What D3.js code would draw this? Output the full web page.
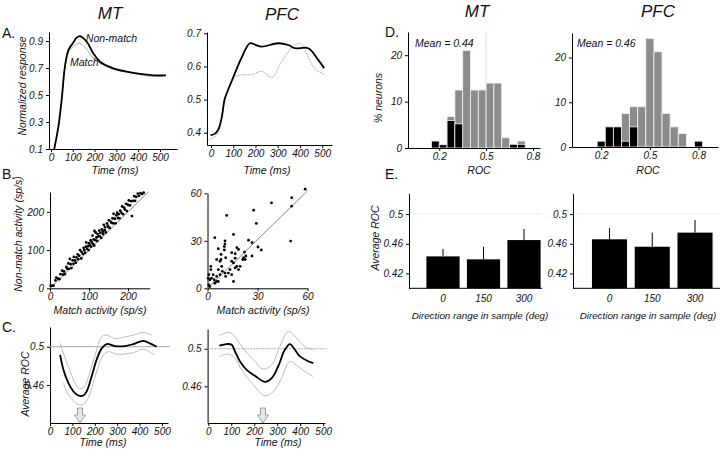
<!DOCTYPE html>
<html>
<head>
<meta charset="utf-8">
<script src="https://cdn.jsdelivr.net/npm/d3@7"></script>
<style>
body { margin: 0; background: #fff; }
svg { font-family: "Liberation Sans", Arial, sans-serif; }
</style>
</head>
<body>
<svg id="fig" width="720" height="451"></svg>
<script>
// ---- A: normalized response (time ms, value)
const mtNonMatch = [[15,0.1],[34,0.265],[49,0.463],[64,0.71],[80,0.833],[102,0.888],[118,0.925],[133,0.937],[164,0.895],[194,0.81],[225,0.747],[286,0.698],[348,0.673],[408,0.656],[469,0.646],[527,0.645]];
const mtMatch = [[15,0.1],[34,0.265],[49,0.463],[64,0.70],[80,0.815],[102,0.86],[118,0.877],[133,0.883],[164,0.839],[194,0.772],[225,0.735],[286,0.69],[348,0.668],[408,0.652],[440,0.64],[469,0.64],[527,0.645]];
const pfcNonMatch = [[-2,0.392],[20,0.398],[33,0.41],[48,0.445],[58,0.49],[63,0.505],[100,0.567],[138,0.627],[175,0.67],[200,0.665],[228,0.66],[302,0.67],[350,0.664],[377,0.655],[437,0.655],[482,0.62],[509,0.595]];
const pfcMatch = [[-9,0.38],[10,0.385],[33,0.40],[63,0.5],[100,0.567],[120,0.572],[138,0.575],[183,0.575],[228,0.585],[275,0.567],[317,0.615],[377,0.665],[407,0.667],[437,0.628],[467,0.593],[509,0.576]];

// ---- B: match vs non-match activity (sp/s)
const mtScatter = [[2,6],[6,7],[9,7],[14,21],[16,28],[21,25],[24,24],[27,37],[31,46],[33,36],[36,44],[38,37],[42,56],[44,51],[47,65],[49,51],[51,77],[53,63],[55,53],[58,73],[60,64],[61,82],[64,73],[66,67],[68,81],[71,89],[72,76],[75,85],[77,100],[80,78],[81,95],[84,90],[86,106],[88,100],[90,93],[92,109],[93,120],[95,103],[97,110],[99,100],[100,118],[102,112],[104,126],[105,109],[107,121],[109,138],[110,116],[112,128],[113,112],[114,150],[116,126],[117,146],[119,133],[121,124],[122,142],[124,136],[126,151],[128,136],[129,145],[131,132],[133,154],[135,148],[136,142],[138,166],[140,152],[141,160],[143,146],[146,170],[148,164],[150,160],[151,178],[153,158],[156,174],[158,171],[160,183],[162,170],[163,195],[166,182],[168,170],[170,191],[172,198],[174,184],[176,194],[178,183],[180,203],[183,198],[185,214],[187,194],[190,211],[192,206],[195,221],[197,202],[200,218],[202,230],[205,217],[208,228],[210,189],[213,229],[216,241],[218,229],[221,239],[225,248],[228,242],[232,249],[236,247],[240,250]];
const pfcScatter = [[58.6,62.6],[50.5,57.2],[38.4,54],[27.7,49.3],[11.5,46],[29.3,41],[50.5,51.9],[49.9,29.8],[4.4,32],[15.6,34],[24.6,30.4],[26.7,28.9],[30.3,26.1],[32.3,24.2],[17.6,25.7],[18.6,24.6],[22.2,22.9],[21.6,19.3],[21.2,18.2],[10.5,30],[10.5,28],[10.1,26.4],[10.1,24.2],[6.5,25],[8.1,21.4],[5.5,18.2],[7.5,17.1],[10.9,19.3],[14.5,17.1],[15.6,16],[16.6,19],[17.6,13.9],[16.6,12.9],[13.5,11.8],[12.5,9.6],[14.5,8.6],[8.5,13.9],[6.5,11.8],[8.9,10.7],[10.5,9.6],[10.9,7.5],[7.5,8.6],[5.5,7.5],[3.4,8.6],[2,11.8],[0.8,8.6],[0.4,6.4],[1.4,5.4],[2.4,6.4],[4,5.4],[5.5,4.3],[4.4,3.2],[6.5,4.3],[0.8,2.1],[1.4,1.1],[15.6,4.3],[18.6,11.8],[19.6,13.9],[22.6,18.2],[23,20.4],[26.7,20.4],[14.5,22.5],[16.6,21.9],[8.1,18.2],[2,13.9]];

// ---- C: average ROC over time (ms, ROC)
const mtRocMean = [[45,0.4914],[60,0.476],[82,0.4622],[104,0.4535],[126,0.449],[149,0.449],[164,0.4535],[186,0.469],[208,0.4862],[231,0.4983],[253,0.5028],[290,0.5007],[335,0.5007],[372,0.5028],[417,0.5062],[446,0.5035],[476,0.5]];
const mtRocHi = [[45,0.5035],[82,0.4793],[126,0.457],[149,0.457],[186,0.4793],[208,0.4966],[231,0.5103],[253,0.5121],[290,0.5086],[335,0.5103],[372,0.5121],[417,0.5149],[454,0.5121]];
const mtRocLo = [[60,0.4621],[82,0.45],[126,0.4397],[149,0.4397],[171,0.4466],[193,0.4621],[216,0.4793],[238,0.4914],[261,0.4948],[298,0.4921],[335,0.4924],[372,0.4938],[417,0.4973],[454,0.4931],[469,0.4914]];
const pfcRocMean = [[48,0.5032],[80,0.505],[102,0.5043],[116,0.4972],[138,0.4865],[167,0.4776],[203,0.4712],[247,0.4648],[276,0.4687],[304,0.4811],[333,0.4989],[355,0.505],[377,0.4989],[399,0.4918],[428,0.4875],[457,0.4847]];
const pfcRocHi = [[48,0.5139],[87,0.5174],[109,0.5149],[145,0.5025],[196,0.4883],[239,0.4783],[276,0.4829],[312,0.5025],[348,0.5185],[384,0.5114],[420,0.5025],[457,0.4989]];
const pfcRocLo = [[48,0.4918],[87,0.4943],[116,0.49],[145,0.4776],[196,0.4616],[247,0.4499],[283,0.4544],[319,0.4687],[355,0.4865],[391,0.4811],[428,0.4747],[457,0.4704]];
const arrowTimes = [134, 238];

// ---- D: ROC histograms (% neurons)
const mtBinCenters = [0.175,0.225,0.275,0.325,0.375,0.425,0.475,0.525,0.575,0.625,0.675,0.725];
const mtAll = [1.5,0.7,6.8,12.5,21,12.5,12.5,14,14,2.2,0.8,1.5];
const mtSig = [1.5,0.7,5.9,5.2,0,0,0,0,0,0,0.8,0.8];
const pfcBinCenters = [0.2,0.25,0.3,0.35,0.4,0.45,0.5,0.55,0.6,0.65,0.7,0.75,0.8];
const pfcAll = [1.3,4.5,4.5,7.5,9,9,24.3,21.3,7.5,4.5,3,0,1.3];
const pfcSig = [1.3,4.5,4.5,1.3,4.5,0,0,0,0,0,0,0,1.3];
const binWidth = 0.05;

// ---- E: average ROC by direction range
const rangeCats = ["0", "150", "300"];
const mtRangeRoc = [0.443, 0.439, 0.465];
const mtRangeErr = [0.010, 0.017, 0.015];
const pfcRangeRoc = [0.466, 0.456, 0.475];
const pfcRangeErr = [0.015, 0.019, 0.017];

const svg = d3.select("#fig");

function txt(x, y, s, size, anchor, italic) {
    return svg.append("text")
        .attr("x", x).attr("y", y)
        .attr("text-anchor", anchor || "middle")
        .style("font-size", size + "px")
        .style("font-style", italic === false ? "normal" : "italic")
        .attr("fill", "#111")
        .text(s);
}

function vtxt(x, y, s, size) {
    return svg.append("text")
        .attr("transform", "translate(" + x + "," + y + ") rotate(-90)")
        .attr("text-anchor", "middle")
        .style("font-size", size + "px")
        .style("font-style", "italic")
        .attr("fill", "#111")
        .text(s);
}

function styleAxis(g) {
    g.selectAll(".domain").attr("stroke", "#000").attr("stroke-width", 1);
    g.selectAll(".tick line").attr("stroke", "#000");
    g.selectAll(".tick text")
        .attr("fill", "#111")
        .style("font-size", "10px")
        .style("font-style", "italic")
        .style("font-family", "'Liberation Sans', Arial, sans-serif");
}

function axes(x, y, xticks, yticks) {
    let gx = svg.append("g")
        .attr("transform", "translate(0," + y.range()[0] + ")")
        .call(d3.axisBottom(x).tickValues(xticks).tickSize(3).tickSizeOuter(0).tickPadding(2).tickFormat(String));
    styleAxis(gx);
    let gy = svg.append("g")
        .attr("transform", "translate(" + x.range()[0] + ",0)")
        .call(d3.axisLeft(y).tickValues(yticks).tickSize(3).tickSizeOuter(0).tickPadding(3).tickFormat(String));
    styleAxis(gy);
}

function curve(x, y, data, color, width, dash) {
    svg.append("path")
        .datum(data)
        .attr("fill", "none")
        .attr("stroke", color)
        .attr("stroke-width", width)
        .attr("stroke-dasharray", dash || null)
        .attr("d", d3.line()
            .x(function (d) { return x(d[0]); })
            .y(function (d) { return y(d[1]); })
            .curve(d3.curveCatmullRom.alpha(0.5)));
}

// titles & panel letters
txt(110, 19, "MT", 17);
txt(282, 20, "PFC", 17);
txt(477, 17, "MT", 17);
txt(658, 17, "PFC", 17);
txt(2, 38, "A.", 14, "start", false);
txt(2, 179, "B.", 14, "start", false);
txt(2, 332, "C.", 14, "start", false);
txt(385, 37, "D.", 14, "start", false);
txt(385, 179, "E.", 14, "start", false);

// ---------- A MT
let xA1 = d3.scaleLinear().domain([-9, 578]).range([49, 177]);
let yA1 = d3.scaleLinear().domain([0.1, 0.967]).range([149, 32]);
axes(xA1, yA1, [0, 100, 200, 300, 400, 500], [0.1, 0.3, 0.5, 0.7, 0.9]);
curve(xA1, yA1, mtMatch, "#aaa", 1);
curve(xA1, yA1, mtNonMatch, "#000", 1.8);
txt(xA1(160), yA1(0.89), "Non-match", 10.5, "start");
txt(xA1(87), yA1(0.715), "Match", 10.5, "start");
vtxt(26, 86, "Normalized response", 10.5);
txt(115, 174, "Time (ms)", 10.5);

// ---------- A PFC
let xA2 = d3.scaleLinear().domain([-18, 544]).range([207, 332]);
let yA2 = d3.scaleLinear().domain([0.363, 0.704]).range([145, 32]);
axes(xA2, yA2, [0, 100, 200, 300, 400, 500], [0.4, 0.5, 0.6, 0.7]);
curve(xA2, yA2, pfcMatch, "#aaa", 1, "2,1");
curve(xA2, yA2, pfcNonMatch, "#000", 1.8);
txt(267, 174, "Time (ms)", 10.5);

// ---------- B MT
let xB1 = d3.scaleLinear().domain([0, 255]).range([50, 149.5]);
let yB1 = d3.scaleLinear().domain([0, 252]).range([288.3, 192]);
axes(xB1, yB1, [0, 100, 200], [0, 100, 200]);
svg.append("line")
    .attr("x1", xB1(0)).attr("y1", yB1(0))
    .attr("x2", xB1(252)).attr("y2", yB1(252))
    .attr("stroke", "#888").attr("stroke-width", 1);
svg.append("g").selectAll("circle").data(mtScatter).enter().append("circle")
    .attr("cx", function (d) { return xB1(d[0]); })
    .attr("cy", function (d) { return yB1(d[1]); })
    .attr("r", 1.4).attr("fill", "#000");
vtxt(22, 234, "Non-match activity (sp/s)", 10.5);
txt(100, 314, "Match activity (sp/s)", 10.5);

// ---------- B PFC
let xB2 = d3.scaleLinear().domain([0, 60]).range([207.5, 307.5]);
let yB2 = d3.scaleLinear().domain([0, 60]).range([288.3, 193.3]);
axes(xB2, yB2, [0, 30, 60], [0, 30, 60]);
svg.append("line")
    .attr("x1", xB2(0)).attr("y1", yB2(0))
    .attr("x2", xB2(60)).attr("y2", yB2(61.5))
    .attr("stroke", "#888").attr("stroke-width", 1);
svg.append("g").selectAll("circle").data(pfcScatter).enter().append("circle")
    .attr("cx", function (d) { return xB2(d[0]); })
    .attr("cy", function (d) { return yB2(d[1]); })
    .attr("r", 1.4).attr("fill", "#000");
txt(263, 314, "Match activity (sp/s)", 10.5);

// ---------- C
function arrow(x, y, t) {
    let cx = x(t), bot = y.range()[0], top = bot - 15;
    let pts = [[cx - 2.5, top], [cx + 2.5, top], [cx + 2.5, top + 7], [cx + 5.5, top + 7],
        [cx, bot], [cx - 5.5, top + 7], [cx - 2.5, top + 7]];
    svg.append("path")
        .attr("d", "M" + pts.join("L") + "Z")
        .attr("fill", "#e6e6e6").attr("stroke", "#888").attr("stroke-width", 0.8);
}

let xC1 = d3.scaleLinear().domain([0, 527]).range([50, 168]);
let yC1 = d3.scaleLinear().domain([0.4203, 0.5206]).range([423, 327]);
axes(xC1, yC1, [0, 100, 200, 300, 400, 500], [0.46, 0.5]);
svg.append("line")
    .attr("x1", xC1(0)).attr("x2", xC1(536)).attr("y1", yC1(0.5)).attr("y2", yC1(0.5))
    .attr("stroke", "#aaa").attr("stroke-width", 1);
curve(xC1, yC1, mtRocHi, "#bbb", 1);
curve(xC1, yC1, mtRocLo, "#bbb", 1);
curve(xC1, yC1, mtRocMean, "#000", 1.8);
arrow(xC1, yC1, arrowTimes[0]);
vtxt(29, 384, "Average ROC", 10.5);
txt(103, 446, "Time (ms)", 10.5);

let xC2 = d3.scaleLinear().domain([-3, 508]).range([207.6, 325]);
let yC2 = d3.scaleLinear().domain([0.421, 0.521]).range([423, 329]);
axes(xC2, yC2, [0, 100, 200, 300, 400, 500], [0.46, 0.5]);
svg.append("line")
    .attr("x1", xC2(0)).attr("x2", xC2(515)).attr("y1", yC2(0.5)).attr("y2", yC2(0.5))
    .attr("stroke", "#aaa").attr("stroke-width", 1).attr("stroke-dasharray", "2,1");
curve(xC2, yC2, pfcRocHi, "#bbb", 1);
curve(xC2, yC2, pfcRocLo, "#bbb", 1);
curve(xC2, yC2, pfcRocMean, "#000", 1.8);
arrow(xC2, yC2, arrowTimes[1]);
txt(278, 446, "Time (ms)", 10.5);

// ---------- D
function hist(x, y, centers, all, sig) {
    let g = svg.append("g");
    g.selectAll("rect.all").data(centers).enter().append("rect")
        .attr("x", function (d) { return x(d - binWidth / 2); })
        .attr("width", function (d) { return x(d + binWidth / 2) - x(d - binWidth / 2); })
        .attr("y", function (d, i) { return y(all[i]); })
        .attr("height", function (d, i) { return y(0) - y(all[i]); })
        .attr("fill", "#8c8c8c").attr("stroke", "#f4f4f4").attr("stroke-width", 0.8);
    g.selectAll("rect.sig").data(centers).enter().append("rect")
        .attr("x", function (d) { return x(d - binWidth / 2); })
        .attr("width", function (d) { return x(d + binWidth / 2) - x(d - binWidth / 2); })
        .attr("y", function (d, i) { return y(sig[i]); })
        .attr("height", function (d, i) { return y(0) - y(sig[i]); })
        .attr("fill", "#000").attr("stroke", "#f4f4f4").attr("stroke-width", 0.8);
}

let xD1 = d3.scaleLinear().domain([0, 0.845]).range([408, 540]);
let yD1 = d3.scaleLinear().domain([0, 25]).range([148, 32]);
svg.append("line")
    .attr("x1", xD1(0.5)).attr("x2", xD1(0.5)).attr("y1", yD1(25)).attr("y2", yD1(0))
    .attr("stroke", "#ddd").attr("stroke-width", 1);
hist(xD1, yD1, mtBinCenters, mtAll, mtSig);
axes(xD1, yD1, [0.2, 0.5, 0.8], [0, 10, 20]);
txt(415, 47, "Mean = 0.44", 10.5, "start");
vtxt(382, 98, "% neurons", 10.5);
txt(479, 174, "ROC", 10.5);

let xD2 = d3.scaleLinear().domain([0.02, 0.92]).range([572, 718]);
let yD2 = d3.scaleLinear().domain([0, 25.5]).range([147, 33]);
hist(xD2, yD2, pfcBinCenters, pfcAll, pfcSig);
axes(xD2, yD2, [0.2, 0.5, 0.8], [0, 10, 20]);
txt(577, 47, "Mean = 0.46", 10.5, "start");
txt(648, 174, "ROC", 10.5);

// ---------- E
function barPanel(x0, x1, band, cats, vals, errs) {
    let y = d3.scaleLinear().domain([0.4, 0.528]).range([288.3, 193.3]);
    let x = d3.scaleBand().domain(cats).range(band).paddingInner(0.18).paddingOuter(0.09);
    svg.append("line")
        .attr("x1", x0).attr("x2", x1).attr("y1", y(0.5)).attr("y2", y(0.5))
        .attr("stroke", "#eee").attr("stroke-width", 1);
    svg.append("g").selectAll("line").data(cats).enter().append("line")
        .attr("x1", function (d) { return x(d) + x.bandwidth() / 2; })
        .attr("x2", function (d) { return x(d) + x.bandwidth() / 2; })
        .attr("y1", function (d, i) { return y(vals[i]); })
        .attr("y2", function (d, i) { return y(vals[i] + errs[i]); })
        .attr("stroke", "#000").attr("stroke-width", 1);
    svg.append("g").selectAll("rect").data(cats).enter().append("rect")
        .attr("x", function (d) { return x(d); })
        .attr("width", x.bandwidth())
        .attr("y", function (d, i) { return y(vals[i]); })
        .attr("height", function (d, i) { return y(0.4) - y(vals[i]); })
        .attr("fill", "#000");
    let gx = svg.append("g")
        .attr("transform", "translate(0," + y.range()[0] + ")")
        .call(d3.axisBottom(x).tickSize(0).tickPadding(7));
    gx.select(".domain").attr("d", "M" + x0 + ",0H" + x1);
    styleAxis(gx);
    let gy = svg.append("g")
        .attr("transform", "translate(" + x0 + ",0)")
        .call(d3.axisLeft(y).tickValues([0.42, 0.46, 0.5]).tickSize(3).tickSizeOuter(0).tickPadding(3).tickFormat(String));
    styleAxis(gy);
}

barPanel(409, 542, [422.75, 544.25], rangeCats, mtRangeRoc, mtRangeErr);
vtxt(379, 238, "Average ROC", 10.5);
txt(480, 319, "Direction range in sample (deg)", 9.8);

barPanel(573, 720, [588.1, 716.4], rangeCats, pfcRangeRoc, pfcRangeErr);
txt(648, 319, "Direction range in sample (deg)", 9.8);
</script>
</body>
</html>
